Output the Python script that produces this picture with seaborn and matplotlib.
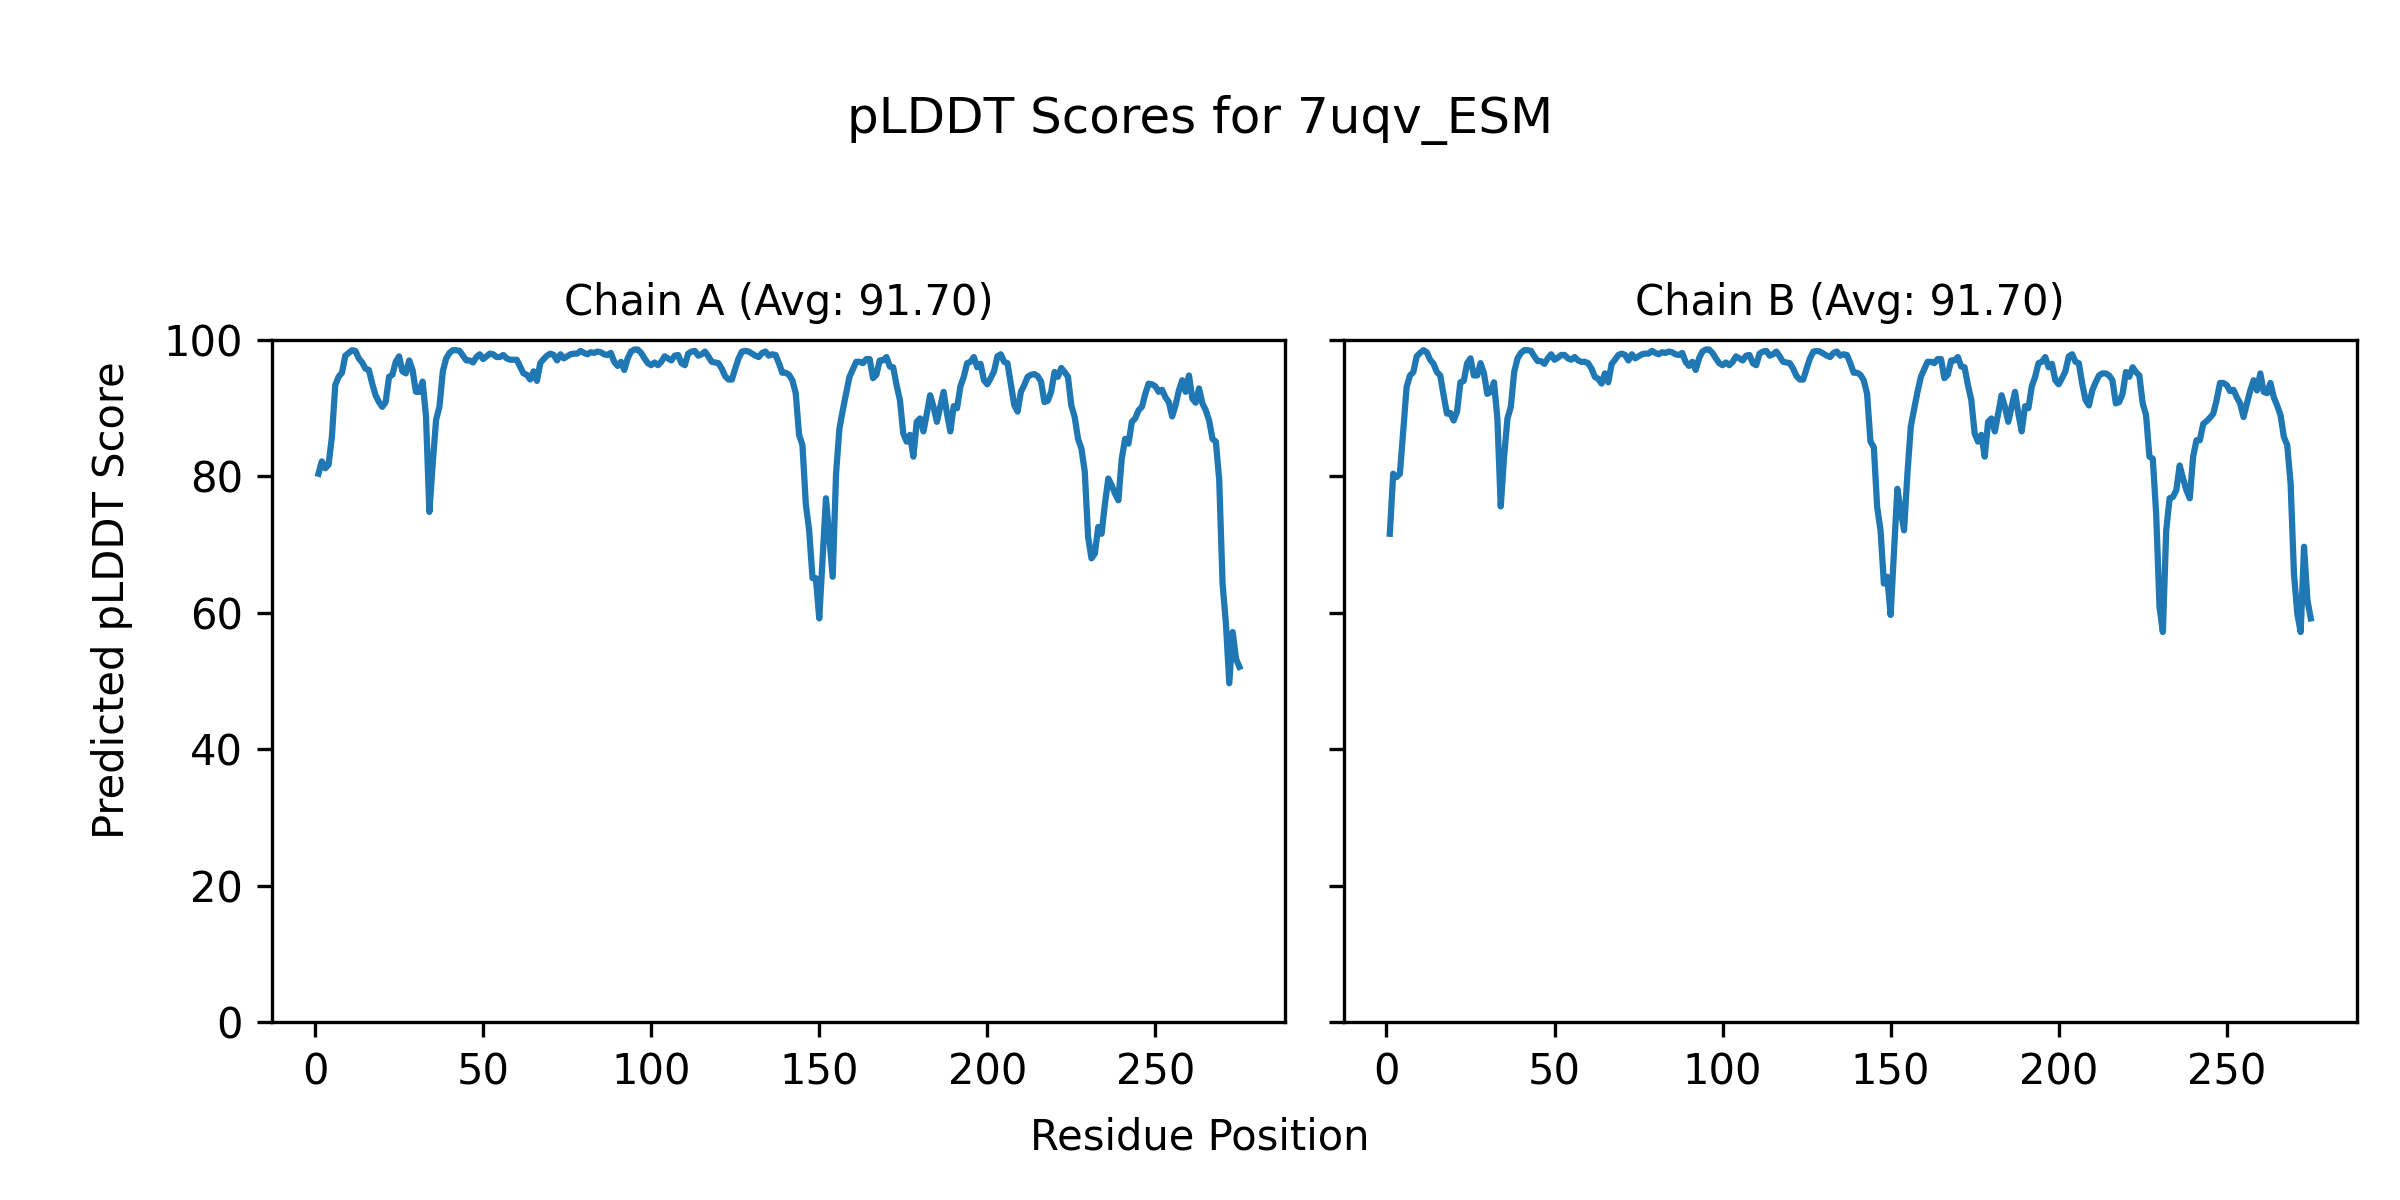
import matplotlib
matplotlib.use("Agg")
import matplotlib.pyplot as plt
import seaborn as sns
import pandas as pd

protein = "7uqv_ESM"
chain_ids = ["A", "B"]
avg_labels = ["91.70", "91.70"]

# per-residue pLDDT
plddt_a = [
    80.4, 82.2, 81.2, 81.7, 85.8, 93.4, 94.6, 95.2, 97.7, 98.1,
    98.5, 98.4, 97.3, 96.7, 95.8, 95.6, 93.6, 91.9, 90.9, 90.2,
    90.9, 94.6, 94.9, 96.8, 97.6, 95.4, 95.1, 97.0, 95.6, 92.4,
    92.4, 93.9, 88.8, 74.8, 81.9, 88.3, 90.2, 95.4, 97.3, 98.1,
    98.5, 98.5, 98.4, 97.7, 97.0, 97.0, 96.7, 97.5, 97.9, 97.2,
    97.6, 98.0, 97.9, 97.5, 97.5, 97.8, 97.3, 97.1, 97.1, 97.1,
    96.1, 95.1, 94.9, 94.2, 95.4, 94.0, 96.6, 97.2, 97.7, 98.0,
    97.8, 97.0, 97.9, 97.3, 97.6, 97.9, 98.0, 98.0, 98.4, 98.1,
    97.9, 98.2, 98.1, 98.3, 98.2, 97.9, 97.8, 98.1, 96.8, 96.2,
    96.8, 95.6, 97.3, 98.3, 98.6, 98.6, 98.1, 97.3, 96.6, 96.3,
    96.7, 96.3, 96.8, 97.6, 97.3, 97.0, 97.7, 97.8, 96.6, 96.3,
    98.0, 98.3, 98.4, 97.7, 97.9, 98.3, 97.6, 96.8, 96.7, 96.6,
    95.8, 94.7, 94.2, 94.2, 95.8, 97.3, 98.3, 98.4, 98.3, 98.0,
    97.7, 97.5, 98.1, 98.3, 97.7, 97.9, 97.8, 96.6, 95.2, 95.2,
    94.9, 94.1, 92.2, 86.1, 84.6, 76.0, 72.1, 65.1, 65.1, 59.2,
    68.0, 76.8, 71.1, 65.3, 80.4, 87.0, 89.7, 92.2, 94.6, 95.7,
    96.8, 96.8, 96.6, 97.2, 97.2, 94.4, 94.9, 97.0, 97.0, 97.5,
    96.1, 96.0, 93.4, 91.2, 86.3, 85.1, 86.1, 82.9, 88.0, 88.5,
    86.6, 89.2, 91.9, 90.2, 88.0, 90.2, 92.4, 89.2, 86.6, 90.3,
    90.0, 93.2, 94.6, 96.6, 96.8, 97.5, 96.0, 96.5, 94.1, 93.5,
    94.4, 95.4, 97.6, 97.9, 96.8, 96.6, 93.6, 90.5, 89.5, 92.4,
    93.4, 94.6, 94.9, 95.0, 94.7, 93.9, 90.9, 91.1, 92.4, 95.3,
    94.6, 95.9, 95.3, 94.6, 90.4, 88.7, 85.5, 84.1, 80.7, 71.1,
    68.0, 68.7, 72.6, 71.6, 76.0, 79.7, 78.7, 77.5, 76.5, 82.6,
    85.5, 84.8, 88.0, 88.5, 89.7, 90.2, 92.1, 93.6, 93.5, 93.2,
    92.4, 92.7, 91.6, 90.9, 88.8, 90.4, 92.6, 94.1, 92.4, 94.8,
    91.4, 90.8, 92.9, 90.7, 89.7, 88.2, 85.5, 85.1, 79.5, 64.3,
    58.4, 49.7, 57.2, 53.3, 52.1,
]

plddt_b = [
    71.6, 80.4, 79.9, 80.4, 86.8, 93.1, 94.8, 95.3, 97.6, 98.1,
    98.5, 98.2, 97.1, 96.5, 95.3, 94.8, 91.9, 89.2, 89.3, 88.2,
    89.5, 93.8, 94.0, 96.6, 97.3, 94.8, 94.8, 96.6, 95.1, 92.1,
    92.4, 93.8, 88.5, 75.6, 82.9, 88.5, 90.2, 95.3, 97.3, 98.1,
    98.5, 98.5, 98.4, 97.6, 96.9, 96.9, 96.5, 97.3, 97.9, 97.1,
    97.4, 97.8, 97.8, 97.3, 97.1, 97.5, 97.0, 96.8, 96.8, 96.6,
    95.8, 94.6, 94.3, 93.6, 95.1, 93.8, 96.5, 97.1, 97.8, 98.0,
    97.8, 97.0, 97.9, 97.3, 97.6, 97.9, 98.0, 98.0, 98.4, 98.1,
    97.9, 98.2, 98.1, 98.3, 98.2, 97.9, 97.8, 98.1, 96.8, 96.2,
    96.8, 95.6, 97.3, 98.3, 98.6, 98.6, 98.1, 97.3, 96.6, 96.3,
    96.7, 96.3, 96.8, 97.6, 97.3, 97.0, 97.7, 97.8, 96.6, 96.3,
    98.0, 98.3, 98.4, 97.7, 97.9, 98.3, 97.6, 96.8, 96.7, 96.6,
    95.8, 94.7, 94.2, 94.2, 95.8, 97.3, 98.3, 98.4, 98.3, 98.0,
    97.7, 97.5, 98.1, 98.3, 97.7, 97.9, 97.8, 96.6, 95.2, 95.2,
    94.9, 94.1, 92.1, 85.1, 84.3, 75.5, 72.1, 64.3, 65.3, 59.7,
    68.9, 78.2, 75.0, 72.1, 80.4, 87.3, 89.9, 92.4, 94.6, 95.7,
    96.8, 96.8, 96.6, 97.2, 97.2, 94.4, 94.9, 97.0, 97.0, 97.5,
    96.1, 96.0, 93.4, 91.2, 86.3, 85.1, 86.1, 82.9, 88.0, 88.5,
    86.6, 89.2, 91.9, 90.2, 88.0, 90.2, 92.4, 89.2, 86.6, 90.3,
    90.0, 93.2, 94.6, 96.6, 96.8, 97.5, 96.0, 96.5, 94.1, 93.5,
    94.4, 95.4, 97.6, 97.9, 96.8, 96.6, 93.6, 91.2, 90.4, 92.6,
    93.8, 94.8, 95.1, 95.1, 94.8, 94.1, 90.7, 90.9, 92.1, 95.3,
    94.6, 96.0, 95.3, 94.8, 90.7, 89.0, 82.9, 82.6, 74.6, 60.9,
    57.2, 72.1, 76.8, 77.0, 78.0, 81.6, 79.7, 78.0, 76.8, 82.9,
    85.3, 85.3, 87.7, 88.1, 88.6, 89.2, 91.2, 93.7, 93.7, 93.4,
    92.5, 92.7, 91.6, 90.7, 88.7, 90.7, 92.6, 94.1, 92.6, 95.1,
    92.4, 92.2, 93.7, 91.6, 90.4, 89.0, 85.8, 84.6, 79.0, 65.8,
    59.9, 57.2, 69.7, 61.9, 59.2,
]

fig, axes = plt.subplots(1, 2, figsize=(8, 4), dpi=300, sharey=True)

for ax, cid, avg, scores in zip(axes, chain_ids, avg_labels, [plddt_a, plddt_b]):
    df = pd.DataFrame({"Residue": range(1, len(scores) + 1), "pLDDT": scores})
    sns.lineplot(data=df, x="Residue", y="pLDDT", ax=ax, color="#1f77b4", linewidth=1.5)
    ax.set_title(f"Chain {cid} (Avg: {avg})", fontsize=10)
    ax.set_ylim(0, 100)
    ax.set_xlabel("")
    ax.set_ylabel("")

fig.suptitle(f"pLDDT Scores for {protein}", fontsize=12, y=0.90, va="center")
fig.supxlabel("Residue Position", fontsize=10, y=0.0525, va="center")
fig.supylabel("Predicted pLDDT Score", fontsize=10, x=0.0465, y=0.5, va="center", ha="center")
fig.subplots_adjust(left=0.1135, right=0.982, top=0.7167, bottom=0.148, wspace=0.0576)

plt.savefig("out.png", dpi=300)
